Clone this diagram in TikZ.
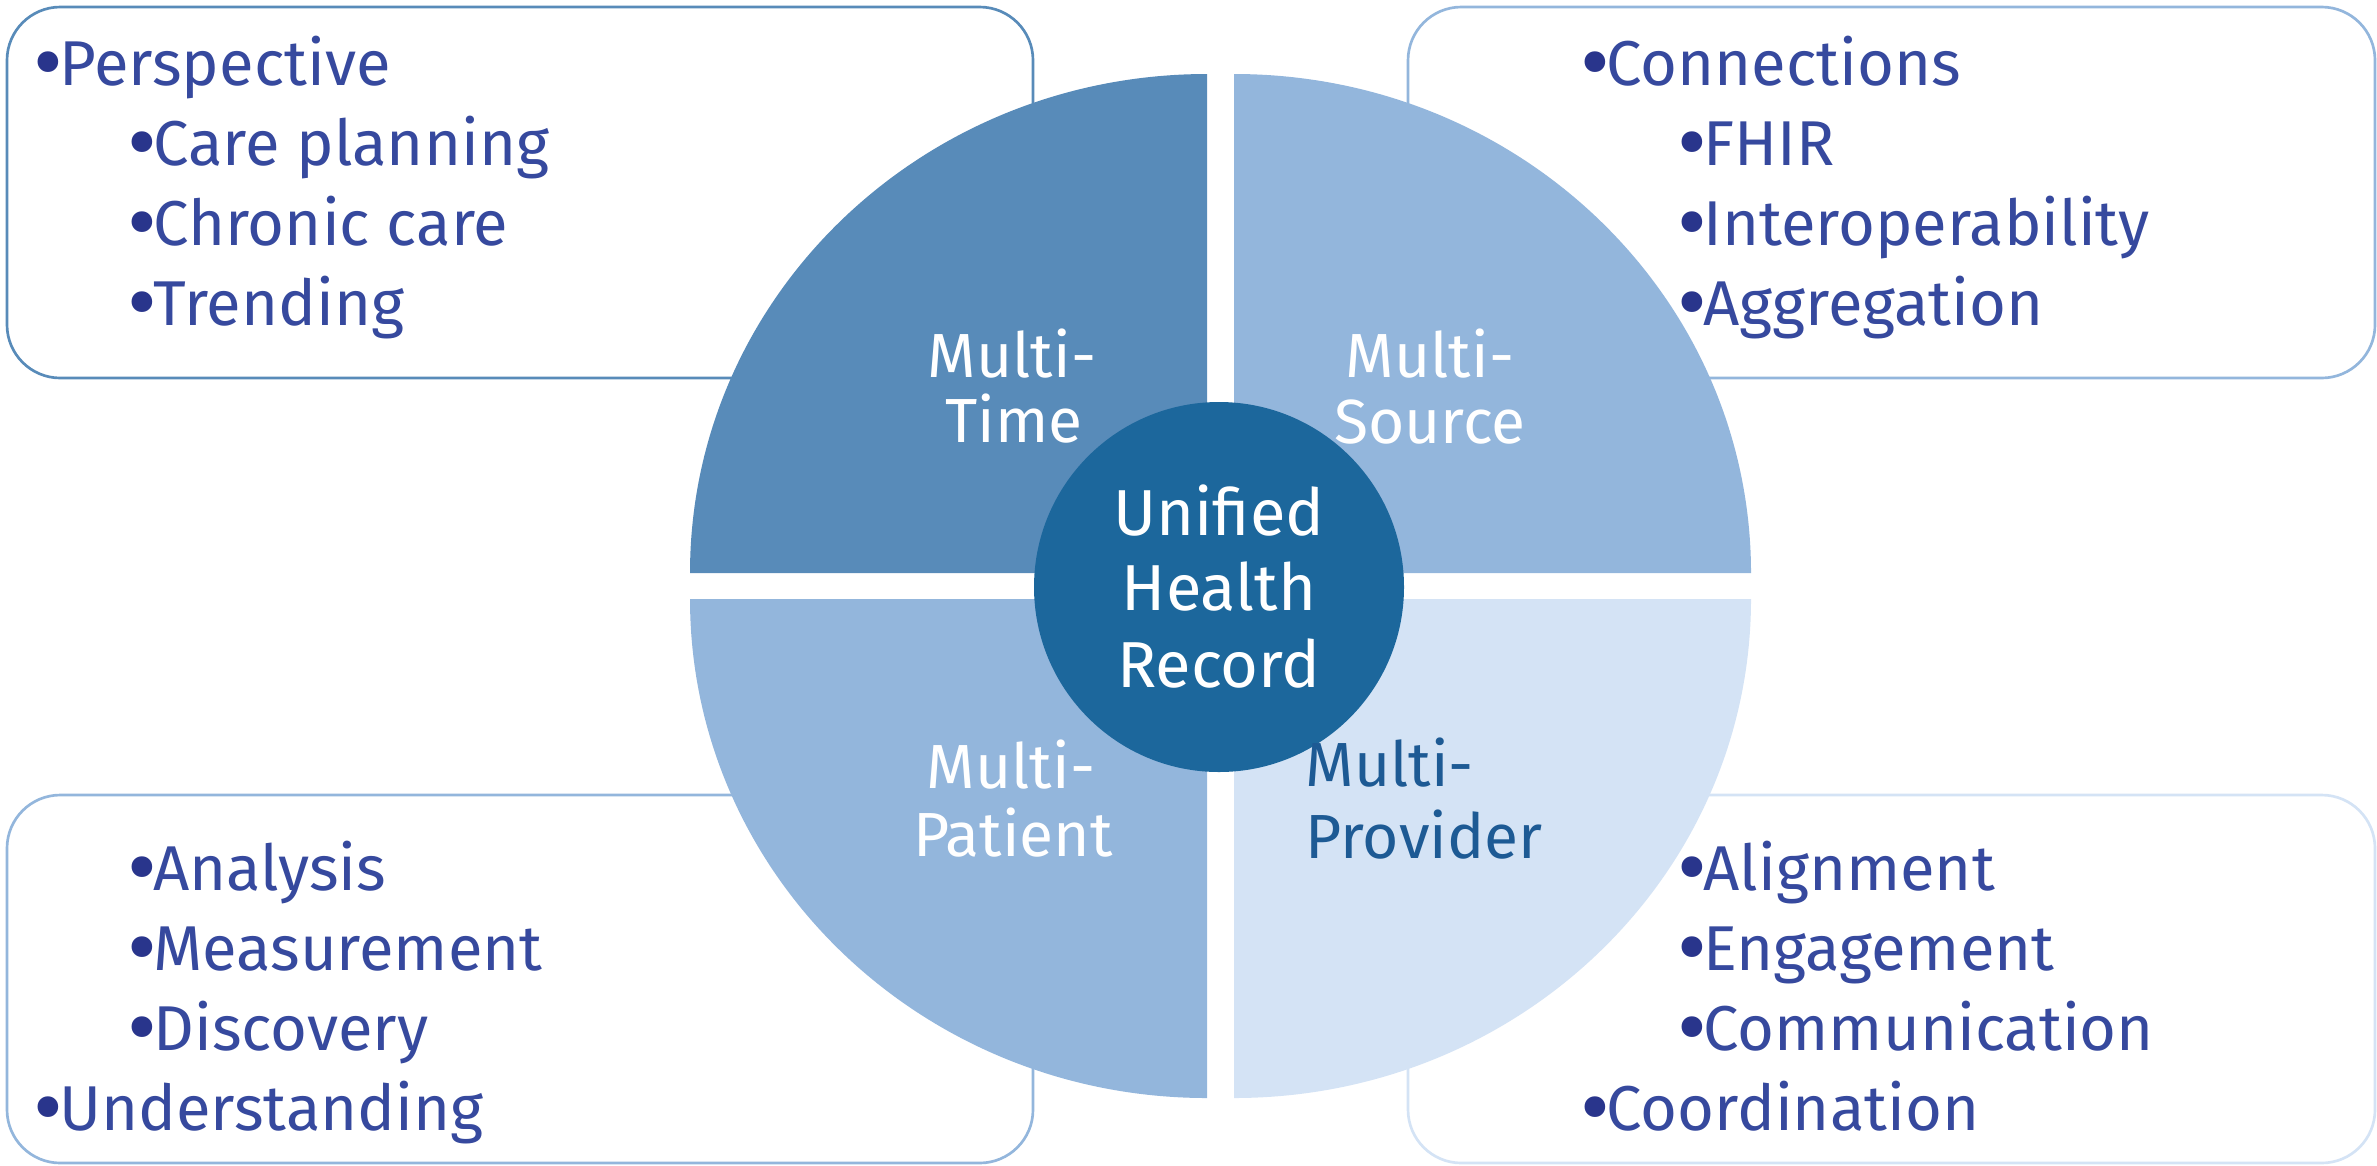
\documentclass[tikz,border=0pt]{standalone}
\usepackage{fontspec}
\setmainfont{Fira Sans}
\definecolor{qtime}{RGB}{88,139,185}
\definecolor{qsrc}{RGB}{147,182,220}
\definecolor{qprov}{RGB}{212,227,245}
\definecolor{ctr}{RGB}{28,103,156}
\definecolor{txt}{RGB}{54,73,158}
\definecolor{bulc}{RGB}{41,53,140}
\definecolor{provtxt}{RGB}{29,90,148}
\newcommand\mybul{\textcolor{bulc}{\raisebox{-2.6pt}[0pt][0pt]{\scalebox{1.45}{•}}}\hspace{-1.2pt}}
\begin{document}
\begin{tikzpicture}[x=0.3pt,y=-0.3pt,
  box/.style={draw, line width=0.8pt, fill=white, rounded corners=16pt},
  item/.style={anchor=base west, inner sep=0pt, text=txt, font=\fontsize{19}{23}\selectfont},
  qlab/.style={anchor=base, inner sep=0pt, text=white, font=\fontsize{18.7}{22}\selectfont},
  clab/.style={anchor=base, inner sep=0pt, text=white, font=\fontsize{19.5}{23}\selectfont},
]
\useasboundingbox (0,0) rectangle (2377,1165);
% boxes
\path[box, draw=qtime] (7,7) rectangle (1033,378);
\path[box, draw=qsrc] (1408,7) rectangle (2375,378);
\path[box, draw=qsrc] (7,795) rectangle (1033,1163);
\path[box, draw=qprov] (1408,795) rectangle (2375,1163);
% quadrants
\fill[qtime] (1207,573) -- (690,573) arc[start angle=180, end angle=270, x radius=517, y radius=499] -- cycle;
\fill[qsrc] (1234,573) -- (1234,74) arc[start angle=270, end angle=360, x radius=517, y radius=499] -- cycle;
\fill[qprov] (1234,599) -- (1751,599) arc[start angle=0, end angle=90, x radius=517, y radius=499] -- cycle;
\fill[qsrc] (1207,599) -- (1207,1098) arc[start angle=90, end angle=180, x radius=517, y radius=499] -- cycle;
% center
\node[circle, fill=ctr, minimum size=111pt, inner sep=0pt] (uhr) at (1219,587) {};
\node[clab] (u1) at (1219,535) {Unified};
\node[clab] (u2) at (1219,610) {Health};
\node[clab] (u3) at (1219,687) {Record};
% quadrant labels
\node[qlab] (t1) at (1012,377) {Multi-};
\node[qlab] (t2) at (1014,442) {Time};
\node[qlab] (s1) at (1430,377) {Multi-};
\node[qlab] (s2) at (1430,443) {Source};
\node[qlab] (pa1) at (1011,788) {Multi-};
\node[qlab] (pa2) at (1013,856) {Patient};
\node[qlab, anchor=base west, text=provtxt] (pr1) at (1305,786) {Multi-};
\node[qlab, anchor=base west, text=provtxt] (pr2) at (1305,858) {Provider};
% top-left items
\node[item] (a1) at (33,85) {\mybul Perspective};
\node[item] (a2) at (127,165) {\mybul Care planning};
\node[item] (a3) at (127,245) {\mybul Chronic care};
\node[item] (a4) at (127,325) {\mybul Trending};
% top-right items
\node[item] (b1) at (1580,85) {\mybul Connections};
\node[item] (b2) at (1677,165) {\mybul FHIR};
\node[item] (b3) at (1677,245) {\mybul Interoperability};
\node[item] (b4) at (1677,325) {\mybul Aggregation};
% bottom-left items
\node[item] (c1) at (127,890) {\mybul Analysis};
\node[item] (c2) at (127,970) {\mybul Measurement};
\node[item] (c3) at (127,1050) {\mybul Discovery};
\node[item] (c4) at (33,1130) {\mybul Understanding};
% bottom-right items
\node[item] (d1) at (1677,890) {\mybul Alignment};
\node[item] (d2) at (1677,970) {\mybul Engagement};
\node[item] (d3) at (1677,1050) {\mybul Communication};
\node[item] (d4) at (1580,1130) {\mybul Coordination};
\end{tikzpicture}
\end{document}
